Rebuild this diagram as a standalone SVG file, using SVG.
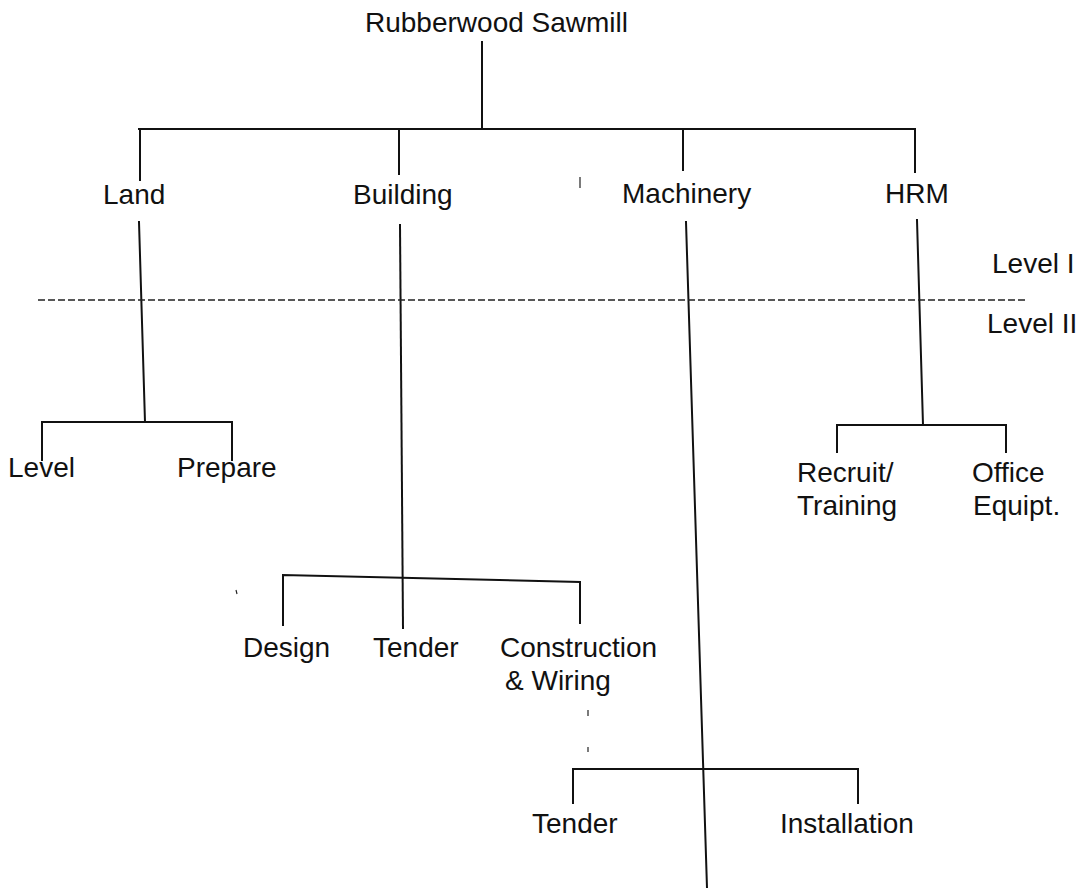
<svg xmlns="http://www.w3.org/2000/svg" width="1090" height="888" viewBox="0 0 1090 888">
<style>
text{font-family:"Liberation Sans",Arial,sans-serif;font-size:28px;fill:#111}
.ln{stroke:#111;stroke-width:2;fill:none;stroke-linecap:square}
.th{stroke:#222;stroke-width:1.2;fill:none}
.dash{stroke:#222;stroke-width:1.6;stroke-dasharray:7 3;fill:none}
</style>
<rect width="1090" height="888" fill="#fff"/>
<g id="connectors">
<path class="ln" d="M482 42 L482 129"/>
<path class="ln" d="M139 129 L915 129"/>
<path class="ln" d="M140 129 L140 180"/>
<path class="ln" d="M399 129 L399 174"/>
<path class="ln" d="M683 129 L683 170"/>
<path class="ln" d="M915 129 L915 172"/>
<path class="ln" d="M139 222 L145 422"/>
<path class="ln" d="M42 460 L42 422 L232 422 L232 460"/>
<path class="ln" d="M400 225 L403 628"/>
<path class="ln" d="M283 625 L283 575 L580 582 L580 623"/>
<path class="ln" d="M686 222 L707 888"/>
<path class="ln" d="M573 803 L573 769 L858 769 L858 803"/>
<path class="ln" d="M917 220 L923 425"/>
<path class="ln" d="M837 452 L837 425 L1006 425 L1006 452"/>
<path class="dash" d="M38 300 L1028 300"/>
<path class="th" d="M580 177 L580 188"/>
<path class="th" d="M236 590 L237 594"/>
<path class="th" d="M588 710 L588 716"/>
<path class="th" d="M588 747 L588 752"/>
</g>
<g id="root"><text x="365" y="32">Rubberwood Sawmill</text></g>
<g id="land"><text x="103" y="204">Land</text></g>
<g id="building"><text x="353" y="204">Building</text></g>
<g id="machinery"><text x="622" y="203">Machinery</text></g>
<g id="hrm"><text x="885" y="203">HRM</text></g>
<g id="level-i"><text x="992" y="273">Level I</text></g>
<g id="level-ii"><text x="987" y="333">Level II</text></g>
<g id="level"><text x="8" y="477">Level</text></g>
<g id="prepare"><text x="177" y="477">Prepare</text></g>
<g id="recruit"><text x="797" y="482">Recruit/</text><text x="797" y="515">Training</text></g>
<g id="office"><text x="972" y="482">Office</text><text x="973" y="515">Equipt.</text></g>
<g id="design"><text x="243" y="657">Design</text></g>
<g id="tender-b"><text x="373" y="657">Tender</text></g>
<g id="construction"><text x="500" y="657">Construction</text><text x="505" y="690">&amp; Wiring</text></g>
<g id="tender-m"><text x="532" y="833">Tender</text></g>
<g id="installation"><text x="780" y="833">Installation</text></g>
</svg>
